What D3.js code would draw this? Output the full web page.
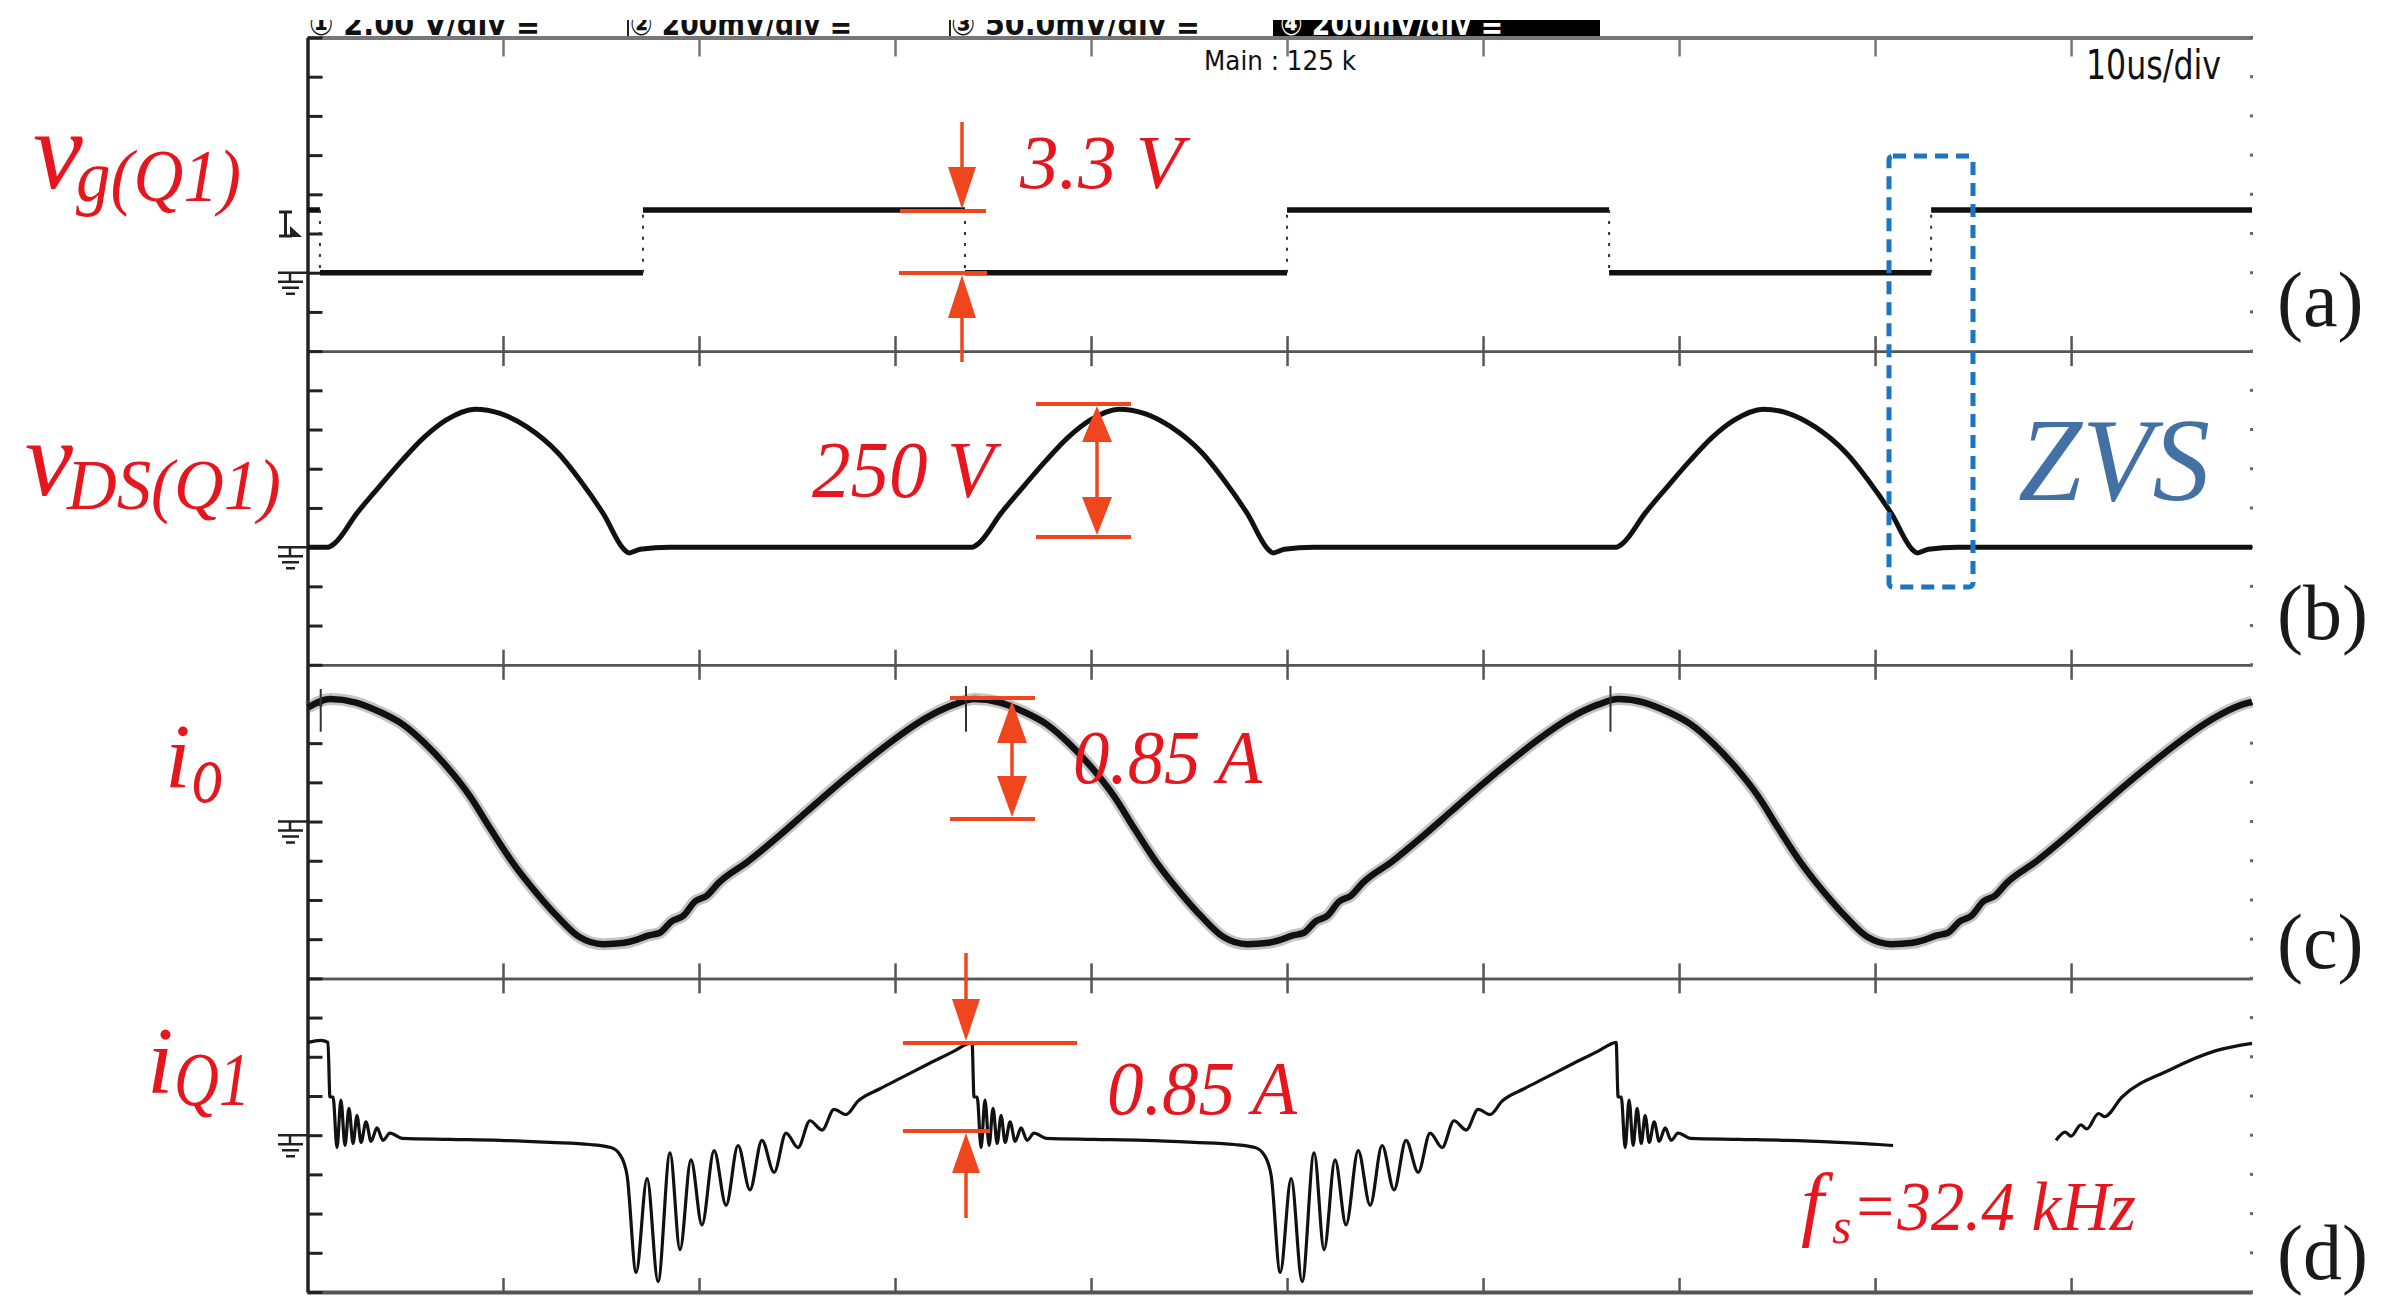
<!DOCTYPE html>
<html lang="en">
<head>
<meta charset="UTF-8">
<title>ZVS waveforms</title>
<script src="https://cdn.jsdelivr.net/npm/d3@7"></script>
<style>
  html, body { margin: 0; padding: 0; background: #fff; }
  svg { display: block; }
</style>
</head>
<body>
<script>
// ---- data (time in us, 10 us/div) ----
const timeDomain = [0, 99.23];
const timeTicks = [10, 20, 30, 40, 50, 60, 70, 80, 90];

// channel scale: value per division, ground position (divisions from panel top)
const channelNames = ['vg', 'vds', 'io', 'iq1'];
const perDiv = [2, 75, 0.275, 0.38];
const groundDiv = [6, 5, 4, 4];

// gate voltage: edge times and level held after each edge
const vgTimes = [0, 0.66, 17.14, 33.57, 50.0, 66.43, 82.86, 99.23];
const vgLevels = [3.2, 0, 3.2, 0, 3.2, 0, 3.2];

// drain-source voltage (V)
const vdsData = [
  [0.05, 0], [1.07, 0], [1.43, 8], [2.55, 65], [3.67, 115], [4.85, 166], [5.97, 210], [7.09, 243],
  [8.57, 264], [9.85, 256], [11.22, 230], [12.81, 180], [13.93, 128], [15.10, 65], [16.22, -6],
  [16.43, -11], [17.00, -4], [18.50, 0],
  [33.93, 0], [34.29, 8], [35.41, 65], [36.53, 115], [37.71, 166], [38.83, 210], [39.95, 243],
  [41.43, 264], [42.71, 256], [44.08, 230], [45.67, 180], [46.79, 128], [47.96, 65], [49.08, -6],
  [49.29, -11], [49.86, -4], [51.36, 0],
  [66.79, 0], [67.15, 8], [68.27, 65], [69.39, 115], [70.57, 166], [71.69, 210], [72.81, 243],
  [74.29, 264], [75.57, 256], [76.94, 230], [78.53, 180], [79.65, 128], [80.82, 65], [81.94, -6],
  [82.15, -11], [82.72, -4], [84.22, 0], [99.23, 0]
];

// output current (A)
const ioData = [
  [0.05, 0.80], [1.17, 0.86], [2.5, 0.835], [3.7, 0.77], [4.9, 0.68], [6.0, 0.55], [7.1, 0.39],
  [8.3, 0.18], [9.4, -0.06], [10.5, -0.29], [11.7, -0.50], [12.8, -0.67], [13.9, -0.81], [15.1, -0.86],
  [16.2, -0.85], [16.8, -0.83], [17.4, -0.80], [18.0, -0.78], [18.6, -0.70], [19.2, -0.66], [19.8, -0.56],
  [20.4, -0.52], [21.0, -0.43], [22.5, -0.28], [24.0, -0.11], [25.5, 0.07], [27.0, 0.25], [28.5, 0.42],
  [30.0, 0.58], [31.5, 0.72], [33.0, 0.82],
  [34.03, 0.86], [35.36, 0.835], [36.56, 0.77], [37.76, 0.68], [38.86, 0.55], [39.96, 0.39],
  [41.16, 0.18], [42.26, -0.06], [43.36, -0.29], [44.56, -0.50], [45.66, -0.67], [46.76, -0.81],
  [47.96, -0.86], [49.06, -0.85], [49.66, -0.83], [50.26, -0.80], [50.86, -0.78], [51.46, -0.70],
  [52.06, -0.66], [52.66, -0.56], [53.26, -0.52], [53.86, -0.43], [55.36, -0.28], [56.86, -0.11],
  [58.36, 0.07], [59.86, 0.25], [61.36, 0.42], [62.86, 0.58], [64.36, 0.72], [65.86, 0.82],
  [66.89, 0.86], [68.22, 0.835], [69.42, 0.77], [70.62, 0.68], [71.72, 0.55], [72.82, 0.39],
  [74.02, 0.18], [75.12, -0.06], [76.22, -0.29], [77.42, -0.50], [78.52, -0.67], [79.62, -0.81],
  [80.82, -0.86], [81.92, -0.85], [82.52, -0.83], [83.12, -0.80], [83.72, -0.78], [84.32, -0.70],
  [84.92, -0.66], [85.52, -0.56], [86.12, -0.52], [86.72, -0.43], [88.22, -0.28], [89.72, -0.11],
  [91.22, 0.07], [92.72, 0.25], [94.22, 0.42], [95.72, 0.58], [97.22, 0.72], [98.72, 0.82], [99.23, 0.84]
];
// trigger glitches on io: time, top, bottom
const ioSpikes = [[0.7, 0.93, 0.63], [33.62, 0.95, 0.63], [66.5, 0.95, 0.63]];

// switch current (A); null = trace hidden in the original
const iq1Data = [
  [0.05, 0.90], [0.70, 0.92], [1.07, 0.90], [1.17, 0.37], [1.33, 0.37], [1.53, -0.12], [1.73, 0.34],
  [1.94, -0.10], [2.14, 0.26], [2.35, -0.08], [2.55, 0.19], [2.76, -0.07], [3.01, 0.13], [3.27, -0.06],
  [3.57, 0.07], [3.88, -0.05], [4.23, 0.02], [4.85, -0.03], [7.30, -0.04], [9.85, -0.05], [12.40, -0.07],
  [14.44, -0.09], [15.51, -0.12], [15.97, -0.19], [16.33, -0.39], [16.79, -1.33], [17.35, -0.42],
  [17.91, -1.42], [18.52, -0.17], [19.03, -1.11], [19.59, -0.24], [20.15, -0.87], [20.77, -0.15],
  [21.38, -0.68], [21.99, -0.10], [22.60, -0.53], [23.21, -0.05], [23.83, -0.36], [24.44, 0.02],
  [25.05, -0.12], [25.66, 0.14], [26.28, 0.05], [26.89, 0.25], [27.50, 0.20], [28.11, 0.33],
  [29.23, 0.45], [30.26, 0.55], [31.79, 0.70], [33.06, 0.82], [33.62, 0.88],
  [33.93, 0.90], [34.03, 0.37], [34.19, 0.37], [34.39, -0.12], [34.59, 0.34], [34.80, -0.10],
  [35.00, 0.26], [35.21, -0.08], [35.41, 0.19], [35.62, -0.07], [35.87, 0.13], [36.13, -0.06],
  [36.43, 0.07], [36.74, -0.05], [37.09, 0.02], [37.71, -0.03], [40.16, -0.04], [42.71, -0.05],
  [45.26, -0.07], [47.30, -0.09], [48.37, -0.12], [48.83, -0.19], [49.19, -0.39], [49.65, -1.33],
  [50.21, -0.42], [50.77, -1.42], [51.38, -0.17], [51.89, -1.11], [52.45, -0.24], [53.01, -0.87],
  [53.63, -0.15], [54.24, -0.68], [54.85, -0.10], [55.46, -0.53], [56.07, -0.05], [56.69, -0.36],
  [57.30, 0.02], [57.91, -0.12], [58.52, 0.14], [59.14, 0.05], [59.75, 0.25], [60.36, 0.20],
  [60.97, 0.33], [62.09, 0.45], [63.12, 0.55], [64.65, 0.70], [65.92, 0.82], [66.48, 0.88],
  [66.79, 0.90], [66.89, 0.37], [67.05, 0.37], [67.25, -0.12], [67.45, 0.34], [67.66, -0.10],
  [67.86, 0.26], [68.07, -0.08], [68.27, 0.19], [68.48, -0.07], [68.73, 0.13], [68.99, -0.06],
  [69.29, 0.07], [69.60, -0.05], [69.95, 0.02], [70.57, -0.03], [73.02, -0.04], [75.57, -0.05],
  [78.12, -0.07], [80.16, -0.09], [80.92, -0.10], [81.0, null],
  [89.23, -0.05], [89.7, 0.03], [90.0, -0.01], [90.5, 0.10], [90.8, 0.06], [91.4, 0.21], [91.7, 0.18],
  [92.6, 0.37], [95.0, 0.63], [97.4, 0.82], [99.23, 0.89]
];

// scope header texts
const headerLabels = ['\u2460 2.00 V/div \u2261', '\u2461 200mV/div \u2261', '\u2462 50.0mV/div \u2261', '\u2463 200mV/div \u2261'];
const panelTags = ['(a)', '(b)', '(c)', '(d)'];

// ---- layout ----
const W = 2390, H = 1315;
const plotLeft = 307, plotRight = 2252, plotTop = 37.5, plotBottom = 1292;
const divPx = (plotBottom - plotTop) / 32;
const panelH = divPx * 8;
const red = '#e5161e', orange = '#f0461e', ink = '#111';
const scopeFont = '"Liberation Sans Narrow", "DejaVu Sans Condensed", sans-serif';

const svg = d3.select('body').append('svg').attr('width', W).attr('height', H)
  .style('background', '#fff');

const x = d3.scaleLinear().domain(timeDomain).range([plotLeft, plotRight]);
const yScales = channelNames.map((c, i) => {
  const pTop = plotTop + i * panelH;
  return d3.scaleLinear()
    .domain([-(8 - groundDiv[i]) * perDiv[i], groundDiv[i] * perDiv[i]])
    .range([pTop + panelH, pTop]);
});
const yDiv = d3.scaleLinear().domain([0, 32]).range([plotTop, plotBottom]);

// ---- header (clipped like the screenshot) ----
svg.append('clipPath').attr('id', 'hclip').append('rect')
  .attr('x', 0).attr('y', 20).attr('width', W).attr('height', 17);
const header = svg.append('g').attr('clip-path', 'url(#hclip)');
const hX = [309, 630, 951, 1280], hLen = [231, 222, 249, 223];
header.append('rect').attr('x', 1273).attr('y', 0).attr('width', 327).attr('height', 36).attr('fill', '#000');
[628, 950].forEach(xx => header.append('line').attr('x1', xx).attr('x2', xx).attr('y1', 0).attr('y2', 36)
  .attr('stroke', '#222').attr('stroke-width', 2));
header.selectAll('text').data(headerLabels).join('text')
  .attr('x', (d, i) => hX[i]).attr('y', 35)
  .attr('font-family', scopeFont).attr('font-weight', 'bold')
  .attr('font-size', 32).attr('fill', (d, i) => i === 3 ? '#fff' : '#111')
  .attr('textLength', (d, i) => hLen[i]).attr('lengthAdjust', 'spacingAndGlyphs')
  .text(d => d);

// ---- grid: frame lines and dividers ----
function styleAxis(g, color, width) {
  g.select('.domain').attr('stroke', color).attr('stroke-width', width);
  g.selectAll('.tick line').attr('stroke', color).attr('stroke-width', 2.5);
  g.selectAll('.tick text').remove();
}
svg.append('g').attr('transform', `translate(0,${plotTop})`)
  .call(d3.axisBottom(x).tickValues(timeTicks).tickSize(19).tickSizeOuter(0).tickFormat(''))
  .call(g => styleAxis(g, '#777', 4));
[8, 16, 24].forEach(k => {
  const yy = yDiv(k);
  svg.append('g').attr('transform', `translate(0,${yy})`)
    .call(d3.axisBottom(x).tickValues(timeTicks).tickSize(15).tickSizeOuter(0).tickFormat(''))
    .call(g => styleAxis(g, '#555', 2.5));
  svg.append('g').attr('transform', `translate(0,${yy})`)
    .call(d3.axisTop(x).tickValues(timeTicks).tickSize(15).tickSizeOuter(0).tickFormat(''))
    .call(g => styleAxis(g, '#555', 2.5));
});
svg.append('g').attr('transform', `translate(0,${plotBottom})`)
  .call(d3.axisTop(x).tickValues(timeTicks).tickSize(14).tickSizeOuter(0).tickFormat(''))
  .call(g => styleAxis(g, '#555', 4));

// left axis with a tick every division
svg.append('g').attr('transform', `translate(${plotLeft + 0.5},0)`)
  .call(d3.axisRight(yDiv).tickValues(d3.range(0, 33)).tickSize(15).tickSizeOuter(0).tickFormat(''))
  .call(g => {
    g.select('.domain').attr('stroke', '#222').attr('stroke-width', 3.5);
    g.selectAll('.tick line').attr('stroke', '#222').attr('stroke-width', 3);
  });

// right edge dots
svg.append('g').selectAll('rect').data(d3.range(0, 33)).join('rect')
  .attr('x', plotRight - 2).attr('y', d => yDiv(d) - 1.5).attr('width', 3).attr('height', 3)
  .attr('fill', '#666');

// ground markers
yScales.forEach(ys => {
  const g0 = ys(0);
  svg.append('path')
    .attr('d', `M278,${g0}H${plotLeft} M290,${g0}V${g0 + 9} M278,${g0 + 9}H303 M282,${g0 + 15}H299 M286,${g0 + 21}H295`)
    .attr('stroke', '#222').attr('stroke-width', 2.5).attr('fill', 'none');
});
// trigger level marker in panel (a)
{
  const tY = yScales[0](3.1);
  svg.append('path').attr('d', `M279,${tY}H292 M285.5,${tY}V${tY + 24} M279,${tY + 24}H292`)
    .attr('stroke', '#222').attr('stroke-width', 3).attr('fill', 'none');
  svg.append('path').attr('d', `M290,${tY + 14}L302,${tY + 25}L290,${tY + 25}Z`).attr('fill', '#222');
}

// "Main : 125 k" and time base
svg.append('text').attr('x', 1204).attr('y', 70)
  .attr('font-family', scopeFont).attr('font-size', 27).attr('fill', '#111')
  .attr('textLength', 152).attr('lengthAdjust', 'spacingAndGlyphs').text('Main : 125 k');
svg.append('text').attr('x', 2086).attr('y', 79)
  .attr('font-family', scopeFont).attr('font-size', 40).attr('fill', '#111')
  .attr('textLength', 135).attr('lengthAdjust', 'spacingAndGlyphs').text('10us/div');

// ---- traces ----
// (a) gate voltage: solid levels, dotted edges
const yg = yScales[0];
const vgSegs = vgLevels.map((v, i) => [[vgTimes[i], v], [vgTimes[i + 1], v]]);
const vgEdges = vgTimes.slice(1, -1).map((t, i) => [[t, vgLevels[i]], [t, vgLevels[i + 1]]]);
const lineA = d3.line().x(d => x(d[0])).y(d => yg(d[1]));
svg.append('g').selectAll('path').data(vgSegs).join('path')
  .attr('d', lineA).attr('fill', 'none').attr('stroke', ink).attr('stroke-width', 5.5);
svg.append('g').selectAll('path').data(vgEdges).join('path')
  .attr('d', lineA).attr('fill', 'none').attr('stroke', '#333').attr('stroke-width', 2)
  .attr('stroke-dasharray', '3 8');

function traceLine(ys) {
  return d3.line().defined(d => d[1] !== null)
    .x(d => x(d[0])).y(d => ys(d[1])).curve(d3.curveMonotoneX);
}
// (b) drain-source voltage
svg.append('path').datum(vdsData).attr('d', traceLine(yScales[1]))
  .attr('fill', 'none').attr('stroke', ink).attr('stroke-width', 5).attr('stroke-linejoin', 'round');

// (c) output current (thick, noisy-looking)
svg.append('path').datum(ioData).attr('d', traceLine(yScales[2]))
  .attr('fill', 'none').attr('stroke', '#555').attr('stroke-opacity', 0.35).attr('stroke-width', 12);
svg.append('path').datum(ioData).attr('d', traceLine(yScales[2]))
  .attr('fill', 'none').attr('stroke', ink).attr('stroke-width', 6.5);
svg.append('g').selectAll('line').data(ioSpikes).join('line')
  .attr('x1', d => x(d[0])).attr('x2', d => x(d[0]))
  .attr('y1', d => yScales[2](d[1])).attr('y2', d => yScales[2](d[2]))
  .attr('stroke', '#333').attr('stroke-width', 2);

// (d) switch current
svg.append('path').datum(iq1Data).attr('d', traceLine(yScales[3]))
  .attr('fill', 'none').attr('stroke', ink).attr('stroke-width', 3.2).attr('stroke-linejoin', 'round');

// ---- annotations ----
const ann = svg.append('g');
function hbar(x0, x1, y) {
  ann.append('line').attr('x1', x0).attr('x2', x1).attr('y1', y).attr('y2', y)
    .attr('stroke', orange).attr('stroke-width', 4);
}
function vseg(xc, y0, y1) {
  ann.append('line').attr('x1', xc).attr('x2', xc).attr('y1', y0).attr('y2', y1)
    .attr('stroke', orange).attr('stroke-width', 3.5);
}
function head(xc, tip, base, hw) {
  ann.append('path').attr('d', `M${xc},${tip}L${xc - hw},${base}L${xc + hw},${base}Z`).attr('fill', orange);
}
// 3.3 V
vseg(962, 122, 170); head(962, 209, 167, 14); hbar(900, 986, 211); hbar(899, 987, 273);
head(962, 275, 318, 14); vseg(962, 316, 362);
// 250 V
hbar(1036, 1131, 404); hbar(1036, 1131, 537);
head(1097, 406, 442, 15); vseg(1097, 440, 499); head(1097, 535, 497, 15);
// 0.85 A (io)
hbar(950, 1035, 698); hbar(950, 1035, 819);
head(1012, 701, 743, 15); vseg(1012, 741, 778); head(1012, 817, 776, 15);
// 0.85 A (iQ1)
vseg(966, 953, 1002); head(966, 1041, 999, 14); hbar(903, 1077, 1043); hbar(903, 990, 1131);
head(966, 1133, 1173, 14); vseg(966, 1171, 1218);

// ZVS box
svg.append('rect').attr('x', 1889).attr('y', 156).attr('width', 84).attr('height', 431).attr('rx', 4)
  .attr('fill', 'none').attr('stroke', '#1c75c2').attr('stroke-width', 5).attr('stroke-dasharray', '13 8');

const serifIt = '"Liberation Serif", "DejaVu Serif", serif';
function redText(txt, xx, yy, size, len, color) {
  const t = svg.append('text').attr('x', xx).attr('y', yy)
    .attr('font-family', serifIt).attr('font-style', 'italic')
    .attr('font-size', size).attr('fill', color || red).text(txt);
  if (len) t.attr('textLength', len).attr('lengthAdjust', 'spacingAndGlyphs');
  return t;
}
redText('3.3 V', 1020, 188, 76, 163);
redText('250 V', 812, 497, 80, 182);
redText('0.85 A', 1073, 783, 76, 189);
redText('0.85 A', 1107, 1114, 76, 190);
redText('ZVS', 2018, 500, 118, 192, '#4471a4');
redText('f', 1801, 1230, 82);
redText('s', 1832, 1243, 50);
redText('=32.4 kHz', 1852, 1230, 70, 284);

// channel labels
redText('v', 33, 188, 112);
redText('g(Q1)', 76, 201, 75, 165);
redText('v', 25, 495, 108);
redText('DS(Q1)', 67, 509, 72, 214);
redText('i', 165, 787, 92);
redText('o', 192, 802, 84, 31);
redText('i', 147, 1093, 95);
redText('Q1', 174, 1105, 76, 76);

// panel tags
const tagY = [326, 639, 968, 1279];
svg.append('g').selectAll('text').data(panelTags).join('text')
  .attr('x', 2277).attr('y', (d, i) => tagY[i])
  .attr('font-family', '"Liberation Serif", "DejaVu Serif", serif')
  .attr('font-size', 78).attr('fill', '#1a1a1a').text(d => d);
</script>
</body>
</html>
